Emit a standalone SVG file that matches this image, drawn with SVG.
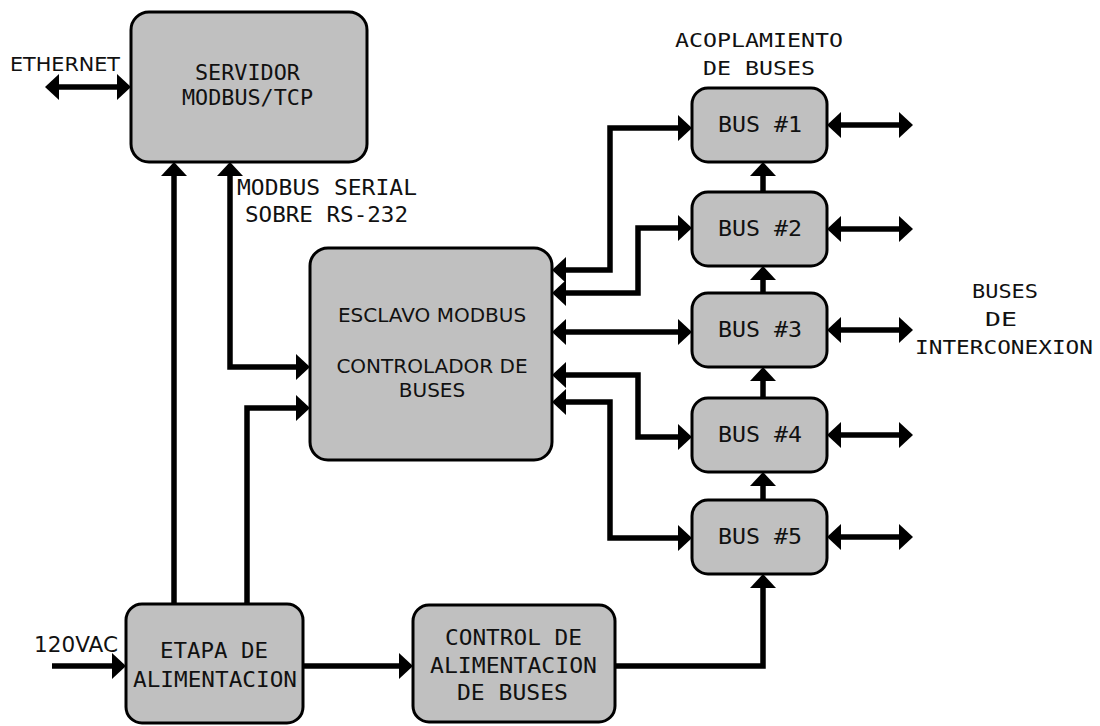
<svg xmlns="http://www.w3.org/2000/svg" width="1100" height="726" viewBox="0 0 1100 726">
  <style>
    .box { fill: #c0c0c0; stroke: #000; stroke-width: 3; }
    .wire { fill: none; stroke: #000; stroke-width: 5.5; stroke-linejoin: miter; }
    .mono { font-family: "DejaVu Sans Mono", "Liberation Mono", monospace; font-size: 21px; fill: #111; }
    .sans { font-family: "DejaVu Sans", "Liberation Sans", sans-serif; font-size: 20px; fill: #111; }
    .small { font-size: 19.5px; }
    .big { font-size: 22px; }
  </style>
  <defs>
    <!-- solid triangular head; tip sits 4px past the path end -->
    <marker id="head" viewBox="0 0 14 26" refX="10" refY="13" markerWidth="14" markerHeight="26" markerUnits="userSpaceOnUse" orient="auto-start-reverse">
      <path d="M0,0 L14,13 L0,26 z" fill="#000"/>
    </marker>
  </defs>

  <rect width="1100" height="726" fill="#fff"/>

  <!-- connectors -->
  <g id="connectors">
    <!-- Ethernet port -->
    <path class="wire" d="M49,87 H127" marker-start="url(#head)" marker-end="url(#head)"/>
    <!-- power feed to the server -->
    <path class="wire" d="M174,604 V166" marker-end="url(#head)"/>
    <!-- Modbus serial link over RS-232 -->
    <path class="wire" d="M230,166 V367 H306" marker-start="url(#head)" marker-end="url(#head)"/>
    <!-- power feed to the slave controller -->
    <path class="wire" d="M247,604 V408 H306" marker-end="url(#head)"/>
    <!-- controller to bus couplers -->
    <path class="wire" d="M556,270 H610 V128 H688" marker-start="url(#head)" marker-end="url(#head)"/>
    <path class="wire" d="M556,293 H638 V228 H688" marker-start="url(#head)" marker-end="url(#head)"/>
    <path class="wire" d="M556,332 H688" marker-start="url(#head)" marker-end="url(#head)"/>
    <path class="wire" d="M556,375 H638 V437 H688" marker-start="url(#head)" marker-end="url(#head)"/>
    <path class="wire" d="M556,402 H610 V538 H688" marker-start="url(#head)" marker-end="url(#head)"/>
    <!-- interconnection bus outputs -->
    <path class="wire" d="M831,125 H909" marker-start="url(#head)" marker-end="url(#head)"/>
    <path class="wire" d="M831,229 H909" marker-start="url(#head)" marker-end="url(#head)"/>
    <path class="wire" d="M831,330 H909" marker-start="url(#head)" marker-end="url(#head)"/>
    <path class="wire" d="M831,435 H909" marker-start="url(#head)" marker-end="url(#head)"/>
    <path class="wire" d="M831,537 H909" marker-start="url(#head)" marker-end="url(#head)"/>
    <!-- power chain between couplers -->
    <path class="wire" d="M763,192 V166" marker-end="url(#head)"/>
    <path class="wire" d="M763,293 V270" marker-end="url(#head)"/>
    <path class="wire" d="M763,398 V371" marker-end="url(#head)"/>
    <path class="wire" d="M763,500 V476" marker-end="url(#head)"/>
    <!-- mains input -->
    <path class="wire" d="M52,666 H122" marker-end="url(#head)"/>
    <!-- supply to bus power control -->
    <path class="wire" d="M303,666 H409" marker-end="url(#head)"/>
    <!-- bus power control to bus #5 -->
    <path class="wire" d="M615,666 H763 V578" marker-end="url(#head)"/>
  </g>

  <!-- free labels -->
  <g id="labels">
    <text class="sans small" x="10" y="71" textLength="110" lengthAdjust="spacingAndGlyphs">ETHERNET</text>
    <text class="mono" x="237" y="195" textLength="180" lengthAdjust="spacingAndGlyphs">MODBUS SERIAL</text>
    <text class="mono" x="245" y="222" textLength="163" lengthAdjust="spacingAndGlyphs">SOBRE RS-232</text>
    <text class="mono small" x="675" y="47" textLength="168" lengthAdjust="spacingAndGlyphs">ACOPLAMIENTO</text>
    <text class="mono small" x="703" y="75" textLength="112" lengthAdjust="spacingAndGlyphs">DE BUSES</text>
    <text class="mono small" x="972" y="298" textLength="66" lengthAdjust="spacingAndGlyphs">BUSES</text>
    <text class="mono small" x="985" y="326" textLength="32" lengthAdjust="spacingAndGlyphs">DE</text>
    <text class="mono small" x="915" y="354" textLength="178" lengthAdjust="spacingAndGlyphs">INTERCONEXION</text>
    <text class="sans big" x="34" y="652" textLength="84" lengthAdjust="spacingAndGlyphs">120VAC</text>
  </g>

  <g id="servidor">
    <rect class="box" x="131" y="12" width="236" height="150" rx="18"/>
    <text class="mono" x="195" y="80" textLength="105" lengthAdjust="spacingAndGlyphs">SERVIDOR</text>
    <text class="mono" x="182" y="105" textLength="131" lengthAdjust="spacingAndGlyphs">MODBUS/TCP</text>
  </g>

  <g id="esclavo">
    <rect class="box" x="310" y="248" width="242" height="212" rx="18"/>
    <text class="sans" x="432" y="322" text-anchor="middle">ESCLAVO MODBUS</text>
    <text class="sans" x="432" y="373" text-anchor="middle">CONTROLADOR DE</text>
    <text class="sans" x="432" y="397" text-anchor="middle">BUSES</text>
  </g>

  <g id="bus1">
    <rect class="box" x="692" y="88" width="135" height="74" rx="16"/>
    <text class="mono" x="718" y="132" textLength="84" lengthAdjust="spacingAndGlyphs">BUS #1</text>
  </g>
  <g id="bus2">
    <rect class="box" x="692" y="192" width="135" height="74" rx="16"/>
    <text class="mono" x="718" y="236" textLength="84" lengthAdjust="spacingAndGlyphs">BUS #2</text>
  </g>
  <g id="bus3">
    <rect class="box" x="692" y="293" width="135" height="74" rx="16"/>
    <text class="mono" x="718" y="337" textLength="84" lengthAdjust="spacingAndGlyphs">BUS #3</text>
  </g>
  <g id="bus4">
    <rect class="box" x="692" y="398" width="135" height="74" rx="16"/>
    <text class="mono" x="718" y="442" textLength="84" lengthAdjust="spacingAndGlyphs">BUS #4</text>
  </g>
  <g id="bus5">
    <rect class="box" x="692" y="500" width="135" height="74" rx="16"/>
    <text class="mono" x="718" y="544" textLength="84" lengthAdjust="spacingAndGlyphs">BUS #5</text>
  </g>

  <g id="etapa">
    <rect class="box" x="126" y="604" width="177" height="119" rx="16"/>
    <text class="mono" x="160" y="658" textLength="108" lengthAdjust="spacingAndGlyphs">ETAPA DE</text>
    <text class="mono" x="133" y="687" textLength="164" lengthAdjust="spacingAndGlyphs">ALIMENTACION</text>
  </g>

  <g id="control">
    <rect class="box" x="413" y="605" width="202" height="117" rx="16"/>
    <text class="mono" x="445" y="645" textLength="137" lengthAdjust="spacingAndGlyphs">CONTROL DE</text>
    <text class="mono" x="430" y="673" textLength="167" lengthAdjust="spacingAndGlyphs">ALIMENTACION</text>
    <text class="mono" x="457" y="700" textLength="111" lengthAdjust="spacingAndGlyphs">DE BUSES</text>
  </g>
</svg>
